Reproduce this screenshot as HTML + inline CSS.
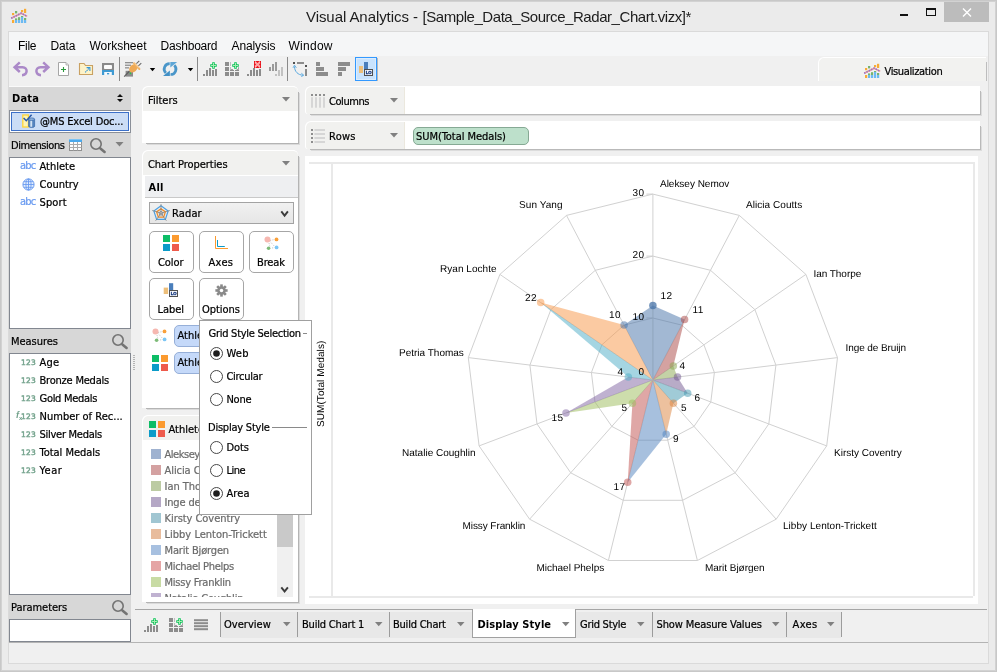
<!DOCTYPE html>
<html lang="en"><head><meta charset="utf-8"><title>Visual Analytics</title>
<style>
html,body{margin:0;padding:0;}
body{width:997px;height:672px;overflow:hidden;background:#ebebeb;position:relative;font-family:'DejaVu Sans Condensed','Liberation Sans',sans-serif;font-size:11px;}
div{position:absolute;box-sizing:border-box;}
svg{position:absolute;overflow:visible;}
.t{white-space:nowrap;}
.u{font-family:'DejaVu Sans Condensed','Liberation Sans',sans-serif;-webkit-text-stroke:0.22px currentColor;}
.l{font-family:'Liberation Sans',sans-serif;}
.d{font-family:'DejaVu Sans','Liberation Sans',sans-serif;-webkit-text-stroke:0.45px currentColor;}
.b{font-weight:bold;-webkit-text-stroke:0;}
</style></head>
<body>
<div style="left:0px;top:0px;width:997px;height:672px;background:#c8c8c8;"></div>
<div style="left:1px;top:1px;width:995px;height:670px;background:#d2d2d2;"></div>
<div style="left:2px;top:2px;width:993px;height:668px;background:#ebebeb;"></div>
<div style="left:8px;top:31px;width:981px;height:633px;background:#f0f0f0;border:1px solid #dadada;"></div>
<svg style="left:11px;top:8px" width="18" height="16" viewBox="0 0 18 16"><rect x="1" y="5" width="2.2" height="2.2" fill="#f8ab35"/><rect x="1" y="12" width="2.2" height="3" fill="#f8ab35"/><rect x="4" y="3" width="2.2" height="2.4" fill="#78b46e"/><rect x="4" y="10.4" width="2.2" height="1.8" fill="#78b46e"/><rect x="4" y="12" width="2.2" height="3" fill="#6cbaf2"/><rect x="7" y="9.2" width="2.2" height="2.8" fill="#78b46e"/><rect x="7" y="12" width="2.2" height="3" fill="#6cbaf2"/><rect x="10" y="2" width="2.2" height="2.2" fill="#f8ab35"/><rect x="10" y="8" width="2.2" height="1.2" fill="#78b46e"/><rect x="10" y="9" width="2.2" height="6" fill="#6cbaf2"/><rect x="13" y="0.8" width="2.2" height="4.2" fill="#f8ab35"/><rect x="13" y="10" width="2.2" height="2" fill="#78b46e"/><rect x="13" y="12" width="2.2" height="3" fill="#6cbaf2"/><path d="M0.2 10.3 L10.2 5.2 L16.2 8.4" fill="none" stroke="#ee9a9a" stroke-width="1.6"/><path d="M0.2 10.3 L10.2 5.2 L16.2 8.4" fill="none" stroke="#8f74cc" stroke-width="1.6" stroke-dasharray="1.3 1.3"/></svg>
<div class="t l" style="left:306px;top:7px;font-size:15px;line-height:20px;height:20px;color:#1c1c1c;letter-spacing:-0.07px;">Visual Analytics -</div>
<div class="t l" style="left:422.5px;top:7px;font-size:15px;line-height:20px;height:20px;color:#1c1c1c;letter-spacing:-0.44px;">[Sample_Data_Source_Radar_Chart.vizx]*</div>
<div style="left:900px;top:14px;width:8px;height:2px;background:#111;"></div>
<div style="left:926px;top:8px;width:10px;height:8px;border:1px solid #111;border-top:2px solid #111;"></div>
<div style="left:944px;top:2px;width:45px;height:20px;background:#bcbcbc;"></div>
<svg style="left:962px;top:8px" width="10" height="9" viewBox="0 0 10 9"><path d="M1 0.5 L9 8.5 M9 0.5 L1 8.5" stroke="#fff" stroke-width="1.4" fill="none"/></svg>
<div style="left:9px;top:32px;width:979px;height:24px;background:#f5f6f7;"></div>
<div class="t l" style="left:18px;top:38px;font-size:12px;line-height:16px;height:16px;letter-spacing:-0.28px;">File</div>
<div class="t l" style="left:50.5px;top:38px;font-size:12px;line-height:16px;height:16px;letter-spacing:-0.12px;">Data</div>
<div class="t l" style="left:89.5px;top:38px;font-size:12px;line-height:16px;height:16px;letter-spacing:-0.02px;">Worksheet</div>
<div class="t l" style="left:160.5px;top:38px;font-size:12px;line-height:16px;height:16px;letter-spacing:-0.21px;">Dashboard</div>
<div class="t l" style="left:231.5px;top:38px;font-size:12px;line-height:16px;height:16px;letter-spacing:-0.1px;">Analysis</div>
<div class="t l" style="left:288.5px;top:38px;font-size:12px;line-height:16px;height:16px;letter-spacing:0.26px;">Window</div>
<div style="left:9px;top:56px;width:979px;height:30px;background:#f0f0f0;"></div>
<svg style="left:0;top:0" width="420" height="90" viewBox="0 0 420 90"><path d="M19.8 62.4 L14.6 67.2 L19.8 72 M16.5 67.2 H22.5 C28.3 67.4 27.8 75 22 75.2" fill="none" stroke="#ab89c8" stroke-width="2.5" stroke-linecap="butt" stroke-linejoin="miter"/><path d="M43.2 62.4 L48.4 67.2 L43.2 72 M46.5 67.2 H40.5 C34.7 67.4 35.2 75 41 75.2" fill="none" stroke="#ab89c8" stroke-width="2.5" stroke-linecap="butt" stroke-linejoin="miter"/><path d="M58.5 62.5 H66 L68.5 65 V75.5 H58.5 Z" fill="#fff" stroke="#a6a6a6" stroke-width="1"/><path d="M66 62.5 V65 H68.5" fill="#e8e8e8" stroke="#a6a6a6" stroke-width="0.8"/><path d="M63.5 67 V72 M61 69.5 H66" stroke="#2a9a3c" stroke-width="1.1" fill="none"/><path d="M79.5 63.5 H84 L85.5 65.5 H92.5 V74.5 H79.5 Z" fill="#fdf3c9" stroke="#c9a162" stroke-width="1.1"/><path d="M85.2 72.3 L89.3 68.2" fill="none" stroke="#3496d8" stroke-width="1.1" stroke-dasharray="1.4 0.6"/><path d="M86.6 67.6 H89.9 V70.9" fill="none" stroke="#3496d8" stroke-width="1.1"/><rect x="102" y="63" width="12" height="7" fill="#8a8a8a"/><rect x="104" y="65" width="8" height="4" rx="0.8" fill="#fdfdfd"/><rect x="102" y="70" width="12" height="5" fill="#3f9ad2"/><rect x="104.2" y="72" width="7.6" height="3" fill="#f4f8fc"/><rect x="107" y="73" width="2.2" height="1.4" fill="#3f9ad2"/><rect x="119.0" y="57" width="1" height="24" fill="#8a8a8a"/><rect x="197.0" y="57" width="1" height="24" fill="#8a8a8a"/><rect x="287.0" y="57" width="1" height="24" fill="#8a8a8a"/><g fill="#8f8f8f"><rect x="125" y="62" width="8" height="1.3"/><rect x="125" y="64.6" width="6" height="1.3"/><rect x="125" y="67.2" width="4" height="1.3"/><rect x="125.6" y="70.8" width="7.4" height="5.8" fill="#8a8a8a"/></g><path d="M124.2 76.6 L129.4 71.2" stroke="#5f5f5f" stroke-width="1.3" fill="none"/><path d="M136.4 63.6 L139.3 60.9 M138.4 65.8 L141.3 63.1" stroke="#6a6a6a" stroke-width="1.1" fill="none"/><ellipse cx="133.3" cy="68.4" rx="4.7" ry="3.5" transform="rotate(-42 133.3 68.4)" fill="#eea955"/><path d="M134 63.2 L139.4 69" stroke="#f0b264" stroke-width="2" stroke-linecap="round" fill="none"/><path d="M134.6 63.4 L139 68.2" stroke="#f8d8a8" stroke-width="0.6" fill="none"/><circle cx="130.4" cy="73.4" r="0.8" fill="#22d23c"/><path d="M149.8 68 h5.4 l-2.7 3.2 z" fill="#000"/><path d="M187.8 68 h5.4 l-2.7 3.2 z" fill="#000"/><path d="M169.7 63.6 A5.4 5.4 0 0 0 165.9 72.9" fill="none" stroke="#4a96c9" stroke-width="2.7"/><path d="M163 76 H169.9 V70.6 Z" fill="#4190c6"/><path d="M170.5 74.5 A5.4 5.4 0 0 0 174.3 65.2" fill="none" stroke="#4a96c9" stroke-width="2.7"/><path d="M177.2 62 H170.3 V67.4 Z" fill="#5ea6d6"/><rect x="203" y="74" width="2" height="2" fill="#8c8c8c"/><rect x="206" y="70" width="2" height="6" fill="#8c8c8c"/><rect x="209" y="68" width="2" height="8" fill="#8c8c8c"/><rect x="212" y="70" width="2" height="6" fill="#8c8c8c"/><rect x="215" y="69" width="2" height="7" fill="#8c8c8c"/><path d="M212 62h3v2h2v3h-2v2h-3v-2h-2v-3h2z" fill="#12c05c" stroke="#f4fff6" stroke-opacity="0.55" stroke-width="0.8"/><path d="M213 63h1v2h2v1h-2v2h-1v-2h-2v-1h2z" fill="#a4ecb0"/><rect x="225" y="62" width="4" height="4" fill="#8c8c8c"/><rect x="230" y="62" width="4" height="4" fill="#8c8c8c"/><rect x="235" y="62" width="4" height="4" fill="#8c8c8c"/><rect x="225" y="67" width="4" height="4" fill="#8c8c8c"/><rect x="230" y="67" width="4" height="4" fill="#8c8c8c"/><rect x="235" y="67" width="4" height="4" fill="#8c8c8c"/><rect x="225" y="72" width="4" height="4" fill="#8c8c8c"/><rect x="230" y="72" width="4" height="4" fill="#8c8c8c"/><rect x="235" y="72" width="4" height="4" fill="#8c8c8c"/><rect x="230.5" y="61.5" width="9" height="8.5" fill="#f0f0f0"/><path d="M231 69.5 h2 M238.5 67 v2.5 h-2" stroke="#8c8c8c" stroke-width="0.8" fill="none"/><path d="M234 62h3v2h2v3h-2v2h-3v-2h-2v-3h2z" fill="#12c05c" stroke="#f4fff6" stroke-opacity="0.55" stroke-width="0.8"/><path d="M235 63h1v2h2v1h-2v2h-1v-2h-2v-1h2z" fill="#a4ecb0"/><rect x="247" y="74" width="2" height="2" fill="#8c8c8c"/><rect x="250" y="70" width="2" height="6" fill="#8c8c8c"/><rect x="253" y="68" width="2" height="8" fill="#8c8c8c"/><rect x="256" y="70" width="2" height="6" fill="#8c8c8c"/><rect x="259" y="69" width="2" height="7" fill="#8c8c8c"/><rect x="254" y="61" width="7" height="7" fill="#e8111a"/><path d="M255.2 62.2 L259.8 66.8 M259.8 62.2 L255.2 66.8" stroke="#ffa0a0" stroke-width="2"/><path d="M255 62h1M259 62h1M255 67h1M259 67h1" stroke="#ffe0e0" stroke-width="1"/><g fill="#9a9a9a"><rect x="269" y="67" width="2" height="4"/><rect x="272" y="64" width="2" height="7"/><rect x="275" y="62" width="2" height="9"/></g><g fill="#c2c2c2"><rect x="275" y="74" width="2" height="2"/><rect x="278" y="70" width="2" height="6"/><rect x="281" y="67" width="2" height="9"/></g><rect x="293" y="62" width="2" height="2" fill="#505050"/><rect x="297" y="62" width="7" height="2" fill="#8c8c8c"/><rect x="305" y="65" width="2" height="2" fill="#505050"/><rect x="305" y="69" width="2" height="7" fill="#8c8c8c"/><path d="M294.5 66.5 C294.5 71.5 298 75 303 75.2" fill="none" stroke="#5aa9e0" stroke-width="1"/><path d="M293 67.8 L294.5 65.2 L296.4 67.8 M301.3 73.2 L303.8 75.2 L301.3 76.6" fill="none" stroke="#5aa9e0" stroke-width="0.9"/><g fill="#8c8c8c"><rect x="316" y="62" width="4" height="4"/><rect x="316" y="67" width="8" height="4"/><rect x="316" y="72" width="12" height="4"/><rect x="338" y="62" width="12" height="4"/><rect x="338" y="67" width="8" height="4"/><rect x="338" y="72" width="4" height="4"/></g><rect x="355.5" y="57.5" width="21" height="23" fill="#c9e3fd" stroke="#3399ff" stroke-width="1"/><rect x="356.5" y="58.5" width="19" height="21" fill="none" stroke="#dcedfe" stroke-width="1"/><rect x="377" y="58" width="1" height="23" fill="#b9b9b9"/><rect x="359" y="66" width="4" height="7" fill="#edbf7a"/><rect x="364" y="62" width="4" height="10" fill="#4a7ebb"/><rect x="364.5" y="69.5" width="8" height="6" fill="#f2f6fb" stroke="#505050" stroke-width="1"/><text x="365.7" y="74.1" font-family="Liberation Sans,sans-serif" font-size="4.3" font-weight="bold" fill="#0c2f78" stroke="#0c2f78" stroke-width="0.3">LO</text></svg>
<div style="left:9px;top:86px;width:122px;height:1px;background:#fafafa;"></div>
<div style="left:9px;top:87px;width:122px;height:555px;background:#d7d7d7;"></div>
<div class="t u b" style="left:12px;top:92px;font-size:11px;line-height:14px;height:14px;letter-spacing:0.23px;">Data</div>
<svg style="left:116px;top:93px" width="8" height="10" viewBox="0 0 8 10"><path d="M1 4 L4 1 L7 4 Z M1 6 L7 6 L4 9 Z" fill="#111"/></svg>
<div style="left:9px;top:110px;width:122px;height:23px;background:#fff;border:1px solid #8a8f98;"></div>
<div style="left:11px;top:112px;width:118px;height:19px;background:#cbddf6;border:1px solid #3c70c8;"></div>
<svg style="left:22px;top:114px" width="14" height="14" viewBox="0 0 14 14">
<rect x="0.8" y="1" width="5.6" height="12" fill="#fdf4b4" stroke="#ffd638" stroke-width="1.3"/>
<path d="M6.6 5.2 v7 a3 1.2 0 0 0 6 0 v-7 z" fill="#5585bf" stroke="#3f6fae" stroke-width="0.8"/>
<rect x="8.3" y="5.6" width="1.9" height="7.2" fill="#d4e3f3"/>
<ellipse cx="9.6" cy="5.2" rx="3" ry="1.3" fill="#8fb2da" stroke="#3f6fae" stroke-width="0.8"/>
<path d="M1.6 3.9 L4.3 6.7 L9.6 0.7" fill="none" stroke="#2a5aa8" stroke-width="1.5"/>
</svg>
<div class="t u" style="left:40px;top:115px;font-size:11px;line-height:14px;height:14px;letter-spacing:-0.15px;">@MS Excel Doc...</div>
<div class="t u" style="left:11px;top:139px;font-size:11px;line-height:14px;height:14px;letter-spacing:-0.42px;">Dimensions</div>
<svg style="left:69px;top:139px" width="13" height="12" viewBox="0 0 13 12">
<rect x="0.5" y="0.5" width="12" height="11" fill="#fdfdfd" stroke="#909090" stroke-width="1"/>
<rect x="0" y="0" width="13" height="3" fill="#4ba9ec"/><rect x="0" y="0" width="13" height="1" fill="#7cc3f4"/>
<path d="M0.5 5.5 H12.5 M0.5 8.5 H12.5 M4.5 3 V11.5 M8.5 3 V11.5" stroke="#ababab" stroke-width="1" fill="none"/>
</svg>
<svg style="left:88.1px;top:135.9px" width="20" height="20" viewBox="-8 -8 20 20"><circle cx="0" cy="0" r="5.2" fill="none" stroke="#737373" stroke-width="1.6"/><path d="M4.4 4.5 L8.6 7.9" stroke="#737373" stroke-width="2.6" stroke-linecap="round"/></svg>
<svg style="left:115px;top:142px" width="9" height="5" viewBox="0 0 9 5"><path d="M0.5 0 H8.5 L4.5 4.6 Z" fill="#808080"/></svg>
<div style="left:9px;top:157px;width:122px;height:172px;background:#fff;border:1px solid #828790;"></div>
<div class="t u" style="left:20px;top:159px;font-size:11px;line-height:14px;height:14px;color:#6a9bf0;letter-spacing:-0.8px;">abc</div>
<div class="t u" style="left:39.5px;top:160px;font-size:11px;line-height:14px;height:14px;letter-spacing:-0.01px;">Athlete</div>
<svg style="left:22px;top:177.5px" width="13" height="13" viewBox="0 0 13 13">
<circle cx="6.5" cy="6.5" r="5.6" fill="#e4eefc" stroke="#6a9bf0" stroke-width="1"/>
<ellipse cx="6.5" cy="6.5" rx="2.6" ry="5.6" fill="none" stroke="#6a9bf0" stroke-width="0.9"/>
<path d="M6.5 1 V12 M1 6.5 H12 M1.9 3.7 H11.1 M1.9 9.3 H11.1" stroke="#6a9bf0" stroke-width="0.9" fill="none"/></svg>
<div class="t u" style="left:39.5px;top:178px;font-size:11px;line-height:14px;height:14px;letter-spacing:-0.02px;">Country</div>
<div class="t u" style="left:20px;top:195px;font-size:11px;line-height:14px;height:14px;color:#6a9bf0;letter-spacing:-0.8px;">abc</div>
<div class="t u" style="left:39.5px;top:196px;font-size:11px;line-height:14px;height:14px;letter-spacing:0.11px;">Sport</div>
<div class="t u" style="left:11px;top:335px;font-size:11px;line-height:14px;height:14px;letter-spacing:-0.03px;">Measures</div>
<svg style="left:110.2px;top:332.2px" width="20" height="20" viewBox="-8 -8 20 20"><circle cx="0" cy="0" r="5.2" fill="none" stroke="#737373" stroke-width="1.6"/><path d="M4.4 4.5 L8.6 7.9" stroke="#737373" stroke-width="2.6" stroke-linecap="round"/></svg>
<div style="left:9px;top:353px;width:122px;height:242px;background:#fff;border:1px solid #828790;"></div>
<div class="t d" style="left:21px;top:358px;font-size:7.5px;line-height:10px;height:10px;color:#74a38d;letter-spacing:0.19px;">123</div>
<div class="t u" style="left:39.5px;top:356px;font-size:11px;line-height:14px;height:14px;letter-spacing:0.17px;">Age</div>
<div class="t d" style="left:21px;top:376px;font-size:7.5px;line-height:10px;height:10px;color:#74a38d;letter-spacing:0.19px;">123</div>
<div class="t u" style="left:39.5px;top:374px;font-size:11px;line-height:14px;height:14px;letter-spacing:-0.21px;">Bronze Medals</div>
<div class="t d" style="left:21px;top:394px;font-size:7.5px;line-height:10px;height:10px;color:#74a38d;letter-spacing:0.19px;">123</div>
<div class="t u" style="left:39.5px;top:392px;font-size:11px;line-height:14px;height:14px;letter-spacing:-0.29px;">Gold Medals</div>
<div class="t d" style="left:21px;top:412px;font-size:7.5px;line-height:10px;height:10px;color:#74a38d;letter-spacing:0.19px;">123</div>
<div class="t l b" style="left:16px;top:409px;font-size:9px;line-height:12px;height:12px;color:#74a38d;"><i>f</i></div>
<div class="t l b" style="left:19px;top:414px;font-size:6px;line-height:8px;height:8px;color:#74a38d;">x</div>
<div class="t u" style="left:39.5px;top:410px;font-size:11px;line-height:14px;height:14px;letter-spacing:0.02px;">Number of Rec...</div>
<div class="t d" style="left:21px;top:430px;font-size:7.5px;line-height:10px;height:10px;color:#74a38d;letter-spacing:0.19px;">123</div>
<div class="t u" style="left:39.5px;top:428px;font-size:11px;line-height:14px;height:14px;letter-spacing:-0.27px;">Silver Medals</div>
<div class="t d" style="left:21px;top:448px;font-size:7.5px;line-height:10px;height:10px;color:#74a38d;letter-spacing:0.19px;">123</div>
<div class="t u" style="left:39.5px;top:446px;font-size:11px;line-height:14px;height:14px;letter-spacing:-0.02px;">Total Medals</div>
<div class="t d" style="left:21px;top:466px;font-size:7.5px;line-height:10px;height:10px;color:#74a38d;letter-spacing:0.19px;">123</div>
<div class="t u" style="left:39.5px;top:464px;font-size:11px;line-height:14px;height:14px;letter-spacing:0.53px;">Year</div>
<div style="left:133px;top:355px;width:2px;height:1px;background:#b4b4b4;"></div>
<div style="left:133px;top:357px;width:2px;height:1px;background:#b4b4b4;"></div>
<div style="left:133px;top:359px;width:2px;height:1px;background:#b4b4b4;"></div>
<div style="left:133px;top:361px;width:2px;height:1px;background:#b4b4b4;"></div>
<div style="left:133px;top:363px;width:2px;height:1px;background:#b4b4b4;"></div>
<div style="left:133px;top:365px;width:2px;height:1px;background:#b4b4b4;"></div>
<div style="left:133px;top:367px;width:2px;height:1px;background:#b4b4b4;"></div>
<div style="left:133px;top:369px;width:2px;height:1px;background:#b4b4b4;"></div>
<div class="t u" style="left:11px;top:601px;font-size:11px;line-height:14px;height:14px;letter-spacing:-0.04px;">Parameters</div>
<svg style="left:110px;top:597.9px" width="20" height="20" viewBox="-8 -8 20 20"><circle cx="0" cy="0" r="5.2" fill="none" stroke="#737373" stroke-width="1.6"/><path d="M4.4 4.5 L8.6 7.9" stroke="#737373" stroke-width="2.6" stroke-linecap="round"/></svg>
<div style="left:9px;top:619px;width:122px;height:23px;background:#fff;border:1px solid #828790;"></div>
<div style="left:145px;top:91px;width:153px;height:52px;box-shadow:1px 1px 0 #b4b4b4,2px 2px 0 #dadada;"></div>
<div style="left:142px;top:86px;width:156px;height:57px;background:#fff;border-radius:6px 5px 0 0;overflow:hidden;border-left:1px solid #fff;border-top:1px solid #fff;"><div style="left:0;top:0;width:155px;height:24px;background:#f1f1ef;border-radius:5px 4px 0 0"></div></div>
<div class="t u" style="left:148px;top:94px;font-size:11px;line-height:14px;height:14px;letter-spacing:0.02px;">Filters</div>
<svg style="left:281.5px;top:97px" width="8" height="5.0" viewBox="0 0 8 5.0"><path d="M0 0 H8 L4.0 4.5 Z" fill="#808080"/></svg>
<div style="left:145px;top:155px;width:153px;height:253px;box-shadow:1px 1px 0 #b4b4b4,2px 2px 0 #dadada;"></div>
<div style="left:142px;top:150px;width:156px;height:258px;background:#fff;border-radius:6px 5px 0 0;overflow:hidden;border-left:1px solid #fff;border-top:1px solid #fff;"><div style="left:0;top:0;width:155px;height:24px;background:#f1f1ef;border-radius:5px 4px 0 0"></div></div>
<div class="t u" style="left:148px;top:158px;font-size:11px;line-height:14px;height:14px;letter-spacing:-0.05px;">Chart Properties</div>
<svg style="left:281.5px;top:161px" width="8" height="5.0" viewBox="0 0 8 5.0"><path d="M0 0 H8 L4.0 4.5 Z" fill="#808080"/></svg>
<div style="left:145px;top:176px;width:153px;height:21px;background:#eeeff1;"></div>
<div style="left:145px;top:197px;width:153px;height:1px;background:#c9c9c9;"></div>
<div class="t u b" style="left:148.5px;top:181px;font-size:11px;line-height:14px;height:14px;letter-spacing:0.28px;">All</div>
<div style="left:149px;top:202px;width:145px;height:22px;background:linear-gradient(#f1f1f1,#e6e6e6);border:1px solid #a3a3a3;"></div>
<svg style="left:153px;top:205px" width="16" height="17" viewBox="0 0 16 17">
<path d="M8.00 0.80 L15.13 5.98 L12.41 14.37 L3.59 14.37 L0.87 5.98 Z" fill="none" stroke="#4a9fe2" stroke-width="1.15" stroke-linejoin="round"/>
<path d="M8.00 3.70 L12.37 6.88 L10.70 12.02 L5.30 12.02 L3.63 6.88 Z" fill="none" stroke="#f28c28" stroke-width="1.25" stroke-linejoin="round"/>
<path d="M8.00 6.20 L10.00 7.65 L9.23 10.00 L6.77 10.00 L6.00 7.65 Z" fill="none" stroke="#7d7d7d" stroke-width="0.75"/>
<path d="M8 8.3 L8.00 -0.90 M8 8.3 L16.75 5.46 M8 8.3 L13.41 15.74 M8 8.3 L2.59 15.74 M8 8.3 L-0.75 5.46" stroke="#7d7d7d" stroke-width="0.75" fill="none"/>
</svg>
<div class="t u" style="left:172px;top:207px;font-size:11px;line-height:14px;height:14px;letter-spacing:0.14px;">Radar</div>
<svg style="left:280px;top:210px" width="10" height="8" viewBox="0 0 10 8"><path d="M1.3 1.3 L4.6 5.6 L7.9 1.3" fill="none" stroke="#3c3c3c" stroke-width="1.9"/></svg>
<div style="left:149px;top:231px;width:45px;height:42px;background:#fff;border:1px solid #a6a6a6;border-radius:5px;"></div>
<div style="left:199px;top:231px;width:45px;height:42px;background:#fff;border:1px solid #a6a6a6;border-radius:5px;"></div>
<div style="left:249px;top:231px;width:45px;height:42px;background:#fff;border:1px solid #a6a6a6;border-radius:5px;"></div>
<div style="left:149px;top:278px;width:45px;height:42px;background:#fff;border:1px solid #a6a6a6;border-radius:5px;"></div>
<div style="left:199px;top:278px;width:45px;height:42px;background:#fff;border:1px solid #a6a6a6;border-radius:5px;"></div>
<svg style="left:163px;top:235px" width="16" height="16"><rect x="0" y="0" width="7" height="7" fill="#0dbd66"/><rect x="9" y="0" width="7" height="7" fill="#fb9a2f"/><rect x="0" y="9" width="7" height="7" fill="#0b9bc8"/><rect x="9" y="9" width="7" height="7" fill="#ee5a4b"/></svg>
<div class="t u" style="left:158px;top:256px;font-size:11px;line-height:14px;height:14px;letter-spacing:-0.09px;">Color</div>
<svg style="left:214px;top:235px" width="15" height="15" viewBox="0 0 15 15"><path d="M1.5 1 V13.5 H14" fill="none" stroke="#fb9a2f" stroke-width="1"/><path d="M3.5 5 V11.5 H10.8" fill="none" stroke="#0b9bc8" stroke-width="1"/></svg>
<div class="t u" style="left:208.5px;top:256px;font-size:11px;line-height:14px;height:14px;letter-spacing:0.32px;">Axes</div>
<svg style="left:263.5px;top:235.5px" width="16" height="15" viewBox="0 0 16 15">
<path d="M6 4.5 L10.5 3.5 M6 5.5 L10.8 10.6 M5 7 L5.8 10.5 M8 12 L10.5 11.5" stroke="#bbb" stroke-width="0.8" stroke-dasharray="1.2 1.2" fill="none"/>
<circle cx="3.5" cy="3.5" r="3" fill="#f6b7b0"/><circle cx="12.5" cy="3.4" r="1.9" fill="#f9a03a"/>
<circle cx="4.6" cy="12.3" r="1.8" fill="#7dbb78"/><circle cx="12.6" cy="11.4" r="1.9" fill="#7cc6f5"/></svg>
<div class="t u" style="left:257px;top:256px;font-size:11px;line-height:14px;height:14px;letter-spacing:-0.12px;">Break</div>
<svg style="left:163px;top:282px" width="16" height="16" viewBox="0 0 16 16"><rect x="0.7" y="5.6" width="4.4" height="6.4" fill="#edbf7a"/><rect x="6" y="1.2" width="4.2" height="9" fill="#4a7ebb"/><rect x="6.5" y="8.5" width="8" height="6" fill="#f6f8fb" stroke="#505050" stroke-width="1"/><text x="7.7" y="13.1" font-family="Liberation Sans,sans-serif" font-size="4.3" font-weight="bold" fill="#0c2f78" stroke="#0c2f78" stroke-width="0.3">LO</text></svg>
<div class="t u" style="left:157.5px;top:303px;font-size:11px;line-height:14px;height:14px;letter-spacing:-0.05px;">Label</div>
<svg style="left:214.5px;top:284px" width="13" height="13" viewBox="-7 -7 14 14"><g fill="#8a8a8a"><rect x="-1.4" y="-6.6" width="2.8" height="4" transform="rotate(0)"/><rect x="-1.4" y="-6.6" width="2.8" height="4" transform="rotate(45)"/><rect x="-1.4" y="-6.6" width="2.8" height="4" transform="rotate(90)"/><rect x="-1.4" y="-6.6" width="2.8" height="4" transform="rotate(135)"/><rect x="-1.4" y="-6.6" width="2.8" height="4" transform="rotate(180)"/><rect x="-1.4" y="-6.6" width="2.8" height="4" transform="rotate(225)"/><rect x="-1.4" y="-6.6" width="2.8" height="4" transform="rotate(270)"/><rect x="-1.4" y="-6.6" width="2.8" height="4" transform="rotate(315)"/><circle r="4.6"/></g><circle r="1.9" fill="#fff"/></svg>
<div class="t u" style="left:202px;top:303px;font-size:11px;line-height:14px;height:14px;letter-spacing:-0.03px;">Options</div>
<svg style="left:152px;top:328.3px" width="16" height="15" viewBox="0 0 16 15">
<path d="M6 4.5 L10.5 3.5 M6 5.5 L10.8 10.6 M5 7 L5.8 10.5 M8 12 L10.5 11.5" stroke="#bbb" stroke-width="0.8" stroke-dasharray="1.2 1.2" fill="none"/>
<circle cx="3.5" cy="3.5" r="3" fill="#f6b7b0"/><circle cx="12.5" cy="3.4" r="1.9" fill="#f9a03a"/>
<circle cx="4.6" cy="12.3" r="1.8" fill="#7dbb78"/><circle cx="12.6" cy="11.4" r="1.9" fill="#7cc6f5"/></svg>
<div style="left:174px;top:325px;width:120px;height:22px;background:#c5d9f9;border:1px solid #96afd8;border-radius:5px;"></div>
<div class="t u" style="left:177.5px;top:329px;font-size:11px;line-height:14px;height:14px;letter-spacing:-0.01px;">Athlete</div>
<svg style="left:152px;top:355px" width="16" height="16"><rect x="0" y="0" width="7" height="7" fill="#0dbd66"/><rect x="9" y="0" width="7" height="7" fill="#fb9a2f"/><rect x="0" y="9" width="7" height="7" fill="#0b9bc8"/><rect x="9" y="9" width="7" height="7" fill="#ee5a4b"/></svg>
<div style="left:174px;top:352px;width:120px;height:22px;background:#c5d9f9;border:1px solid #96afd8;border-radius:5px;"></div>
<div class="t u" style="left:177.5px;top:356px;font-size:11px;line-height:14px;height:14px;letter-spacing:-0.01px;">Athlete</div>
<div style="left:145px;top:420px;width:153px;height:182px;box-shadow:1px 1px 0 #b4b4b4,2px 2px 0 #dadada;"></div>
<div style="left:142px;top:415px;width:156px;height:187px;background:#fff;border-radius:6px 5px 0 0;overflow:hidden;border-left:1px solid #fff;border-top:1px solid #fff;"><div style="left:0;top:0;width:155px;height:24px;background:#f1f1ef;border-radius:5px 4px 0 0"></div></div>
<svg style="left:149px;top:421px" width="16" height="16"><rect x="0" y="0" width="7" height="7" fill="#0dbd66"/><rect x="9" y="0" width="7" height="7" fill="#fb9a2f"/><rect x="0" y="9" width="7" height="7" fill="#0b9bc8"/><rect x="9" y="9" width="7" height="7" fill="#ee5a4b"/></svg>
<div class="t u" style="left:168.5px;top:423px;font-size:11px;line-height:14px;height:14px;letter-spacing:-0.01px;">Athlete</div>
<div style="left:143px;top:440px;width:134px;height:157px;overflow:hidden">
<div style="left:8px;top:9px;width:10px;height:10px;background:#9fb2d0;"></div>
<div class="t u" style="left:21.5px;top:8px;font-size:11px;line-height:14px;height:14px;color:#6b6b6b;letter-spacing:-0.47px;">Aleksey Nemov</div>
<div style="left:8px;top:25px;width:10px;height:10px;background:#d4a1a1;"></div>
<div class="t u" style="left:21.5px;top:24px;font-size:11px;line-height:14px;height:14px;color:#6b6b6b;letter-spacing:-0.07px;">Alicia Coutts</div>
<div style="left:8px;top:41px;width:10px;height:10px;background:#bccba3;"></div>
<div class="t u" style="left:21.5px;top:40px;font-size:11px;line-height:14px;height:14px;color:#6b6b6b;letter-spacing:-0.02px;">Ian Thorpe</div>
<div style="left:8px;top:57px;width:10px;height:10px;background:#b5a8c6;"></div>
<div class="t u" style="left:21.5px;top:56px;font-size:11px;line-height:14px;height:14px;color:#6b6b6b;letter-spacing:-0.16px;">Inge de Bruijn</div>
<div style="left:8px;top:73px;width:10px;height:10px;background:#a1c6d2;"></div>
<div class="t u" style="left:21.5px;top:72px;font-size:11px;line-height:14px;height:14px;color:#6b6b6b;letter-spacing:-0.05px;">Kirsty Coventry</div>
<div style="left:8px;top:89px;width:10px;height:10px;background:#e8bc9d;"></div>
<div class="t u" style="left:21.5px;top:88px;font-size:11px;line-height:14px;height:14px;color:#6b6b6b;letter-spacing:0.01px;">Libby Lenton-Trickett</div>
<div style="left:8px;top:105px;width:10px;height:10px;background:#a7c0e0;"></div>
<div class="t u" style="left:21.5px;top:104px;font-size:11px;line-height:14px;height:14px;color:#6b6b6b;letter-spacing:-0.16px;">Marit Bjørgen</div>
<div style="left:8px;top:121px;width:10px;height:10px;background:#e5a5a5;"></div>
<div class="t u" style="left:21.5px;top:120px;font-size:11px;line-height:14px;height:14px;color:#6b6b6b;letter-spacing:-0.31px;">Michael Phelps</div>
<div style="left:8px;top:137px;width:10px;height:10px;background:#c8dba4;"></div>
<div class="t u" style="left:21.5px;top:136px;font-size:11px;line-height:14px;height:14px;color:#6b6b6b;letter-spacing:-0.22px;">Missy Franklin</div>
<div style="left:8px;top:153px;width:10px;height:10px;background:#c0b2d1;"></div>
<div class="t u" style="left:21.5px;top:152px;font-size:11px;line-height:14px;height:14px;color:#6b6b6b;letter-spacing:-0.18px;">Natalie Coughlin</div>
</div>
<div style="left:277px;top:440px;width:16px;height:157px;background:#f0f0f0;"></div>
<div style="left:277px;top:440px;width:16px;height:107px;background:#c9c9c9;"></div>
<svg style="left:280px;top:585.5px" width="10" height="8" viewBox="0 0 10 8"><path d="M1.3 1.3 L4.6 5.4 L7.9 1.3" fill="none" stroke="#3c3c3c" stroke-width="1.9"/></svg>
<div style="left:818px;top:57px;width:168px;height:24px;background:#f2f2f0;border-top:1px solid #fff;border-left:1px solid #fff;border-radius:6px 0 0 0;"></div>
<div style="left:986px;top:62px;width:1px;height:19px;background:#bdbdbd;"></div>
<svg style="left:864px;top:63px" width="18" height="16" viewBox="0 0 18 16"><rect x="1" y="5" width="2.2" height="2.2" fill="#f8ab35"/><rect x="1" y="12" width="2.2" height="3" fill="#f8ab35"/><rect x="4" y="3" width="2.2" height="2.4" fill="#78b46e"/><rect x="4" y="10.4" width="2.2" height="1.8" fill="#78b46e"/><rect x="4" y="12" width="2.2" height="3" fill="#6cbaf2"/><rect x="7" y="9.2" width="2.2" height="2.8" fill="#78b46e"/><rect x="7" y="12" width="2.2" height="3" fill="#6cbaf2"/><rect x="10" y="2" width="2.2" height="2.2" fill="#f8ab35"/><rect x="10" y="8" width="2.2" height="1.2" fill="#78b46e"/><rect x="10" y="9" width="2.2" height="6" fill="#6cbaf2"/><rect x="13" y="0.8" width="2.2" height="4.2" fill="#f8ab35"/><rect x="13" y="10" width="2.2" height="2" fill="#78b46e"/><rect x="13" y="12" width="2.2" height="3" fill="#6cbaf2"/><path d="M0.2 10.3 L10.2 5.2 L16.2 8.4" fill="none" stroke="#ee9a9a" stroke-width="1.6"/><path d="M0.2 10.3 L10.2 5.2 L16.2 8.4" fill="none" stroke="#8f74cc" stroke-width="1.6" stroke-dasharray="1.3 1.3"/></svg>
<div class="t u" style="left:884.5px;top:65px;font-size:11px;line-height:14px;height:14px;letter-spacing:-0.36px;">Visualization</div>
<div style="left:309px;top:90px;width:671px;height:24px;box-shadow:1px 1px 0 #b9b9b9,2px 2px 0 #dcdcdc;"></div>
<div style="left:305px;top:86px;width:675px;height:28px;background:#fff;border-radius:6px 0 0 3px;overflow:hidden;border-left:1px solid #fff;border-top:1px solid #fff;"><div style="left:0;top:0;width:99px;height:28px;background:#f1f1ef;border-right:1px solid #ebe8de;border-radius:5px 0 0 2px"></div></div>
<div class="t u" style="left:329px;top:95px;font-size:11px;line-height:14px;height:14px;letter-spacing:-0.44px;">Columns</div>
<svg style="left:389.5px;top:98px" width="8" height="5.0" viewBox="0 0 8 5.0"><path d="M0 0 H8 L4.0 4.5 Z" fill="#808080"/></svg>
<svg style="left:311px;top:94px" width="14" height="14" viewBox="0 0 14 14"><rect x="0" y="0" width="2" height="2" fill="#8e8e8e"/><rect x="0" y="3.2" width="2" height="10.5" fill="#d6d6d6"/><rect x="4" y="0" width="2" height="2" fill="#8e8e8e"/><rect x="4" y="3.2" width="2" height="10.5" fill="#d6d6d6"/><rect x="8" y="0" width="2" height="2" fill="#8e8e8e"/><rect x="8" y="3.2" width="2" height="10.5" fill="#d6d6d6"/><rect x="12" y="0" width="2" height="2" fill="#8e8e8e"/><rect x="12" y="3.2" width="2" height="10.5" fill="#d6d6d6"/></svg>
<div style="left:309px;top:125px;width:671px;height:24px;box-shadow:1px 1px 0 #b9b9b9,2px 2px 0 #dcdcdc;"></div>
<div style="left:305px;top:121px;width:675px;height:28px;background:#fff;border-radius:6px 0 0 3px;overflow:hidden;border-left:1px solid #fff;border-top:1px solid #fff;"><div style="left:0;top:0;width:99px;height:28px;background:#f1f1ef;border-right:1px solid #ebe8de;border-radius:5px 0 0 2px"></div></div>
<div class="t u" style="left:329px;top:130px;font-size:11px;line-height:14px;height:14px;letter-spacing:0.27px;">Rows</div>
<svg style="left:389.5px;top:133px" width="8" height="5.0" viewBox="0 0 8 5.0"><path d="M0 0 H8 L4.0 4.5 Z" fill="#808080"/></svg>
<svg style="left:311px;top:129px" width="14" height="14" viewBox="0 0 14 14"><rect x="0" y="0" width="2" height="2" fill="#8e8e8e"/><rect x="3.4" y="0" width="10.6" height="2" fill="#d6d6d6"/><rect x="0" y="4" width="2" height="2" fill="#8e8e8e"/><rect x="3.4" y="4" width="10.6" height="2" fill="#d6d6d6"/><rect x="0" y="8" width="2" height="2" fill="#8e8e8e"/><rect x="3.4" y="8" width="10.6" height="2" fill="#d6d6d6"/><rect x="0" y="12" width="2" height="2" fill="#8e8e8e"/><rect x="3.4" y="12" width="10.6" height="2" fill="#d6d6d6"/></svg>
<div style="left:413px;top:127px;width:116px;height:18px;background:#bde0cb;border:1px solid #86a994;border-radius:5px;"></div>
<div class="t u" style="left:416px;top:130px;font-size:11px;line-height:14px;height:14px;letter-spacing:-0.05px;">SUM(Total Medals)</div>
<div style="left:305px;top:156px;width:673px;height:448px;background:#fff;"></div>
<div style="left:309px;top:162px;width:666px;height:2px;background:#e9e9e9;"></div>
<div style="left:309px;top:596px;width:664px;height:2px;background:#e9e9e9;"></div>
<div style="left:331px;top:164px;width:2px;height:432px;background:#e9e9e9;"></div>
<div style="left:973px;top:164px;width:2px;height:432px;background:#e9e9e9;"></div>
<svg style="left:0;top:0" width="997" height="672" viewBox="0 0 997 672"><g fill="none" stroke="#d1d1d1" stroke-width="1"><path d="M652.9 318.0 L681.7 325.1 L703.9 344.8 L714.4 372.5 L710.8 402.0 L694.0 426.4 L667.7 440.2 L638.1 440.2 L611.8 426.4 L595.0 402.0 L591.4 372.5 L601.9 344.8 L624.1 325.1 Z"/><path d="M652.9 256.1 L710.5 270.3 L754.9 309.6 L775.9 365.1 L768.8 423.9 L735.1 472.8 L682.6 500.3 L623.2 500.3 L570.7 472.8 L537.0 423.9 L529.9 365.1 L550.9 309.6 L595.3 270.3 Z"/><path d="M652.9 194.1 L739.3 215.4 L805.9 274.4 L837.5 357.6 L826.7 445.9 L776.2 519.2 L697.4 560.5 L608.4 560.5 L529.6 519.2 L479.1 445.9 L468.3 357.6 L499.9 274.4 L566.5 215.4 Z"/><path d="M652.9 380.0 L652.9 194.1"/><path d="M652.9 380.0 L739.3 215.4"/><path d="M652.9 380.0 L805.9 274.4"/><path d="M652.9 380.0 L837.5 357.6"/><path d="M652.9 380.0 L826.7 445.9"/><path d="M652.9 380.0 L776.2 519.2"/><path d="M652.9 380.0 L697.4 560.5"/><path d="M652.9 380.0 L608.4 560.5"/><path d="M652.9 380.0 L529.6 519.2"/><path d="M652.9 380.0 L479.1 445.9"/><path d="M652.9 380.0 L468.3 357.6"/><path d="M652.9 380.0 L499.9 274.4"/><path d="M652.9 380.0 L566.5 215.4"/><path d="M646.4 318.0 H652.9"/><path d="M646.4 256.1 H652.9"/><path d="M646.4 194.1 H652.9"/></g><path d="M652.9 380.0 L652.9 305.6 L684.6 319.6 Z" fill="#4572a7" fill-opacity="0.5"/><path d="M652.9 380.0 L684.6 319.6 L673.3 365.9 Z" fill="#aa4643" fill-opacity="0.5"/><path d="M652.9 380.0 L673.3 365.9 L677.5 377.0 Z" fill="#89a54e" fill-opacity="0.5"/><path d="M652.9 380.0 L677.5 377.0 L687.7 393.2 Z" fill="#71588f" fill-opacity="0.5"/><path d="M652.9 380.0 L687.7 393.2 L673.4 403.2 Z" fill="#4198af" fill-opacity="0.5"/><path d="M652.9 380.0 L673.4 403.2 L666.2 434.2 Z" fill="#db843d" fill-opacity="0.5"/><path d="M652.9 380.0 L666.2 434.2 L627.7 482.3 Z" fill="#4f81bd" fill-opacity="0.5"/><path d="M652.9 380.0 L627.7 482.3 L632.4 403.2 Z" fill="#c0504d" fill-opacity="0.5"/><path d="M652.9 380.0 L632.4 403.2 L566.0 413.0 Z" fill="#9bbb59" fill-opacity="0.5"/><path d="M652.9 380.0 L566.0 413.0 L628.3 377.0 Z" fill="#8064a2" fill-opacity="0.5"/><path d="M652.9 380.0 L628.3 377.0 L540.7 302.6 Z" fill="#4bacc6" fill-opacity="0.5"/><path d="M652.9 380.0 L540.7 302.6 L624.1 325.1 Z" fill="#f79646" fill-opacity="0.5"/><path d="M652.9 380.0 L624.1 325.1 L652.9 305.6 Z" fill="#4572a7" fill-opacity="0.5"/><circle cx="652.9" cy="305.6" r="3.75" fill="#4572a7" fill-opacity="0.75"/><circle cx="684.6" cy="319.6" r="3.75" fill="#aa4643" fill-opacity="0.5"/><circle cx="673.3" cy="365.9" r="3.75" fill="#89a54e" fill-opacity="0.5"/><circle cx="677.5" cy="377.0" r="3.75" fill="#71588f" fill-opacity="0.5"/><circle cx="687.7" cy="393.2" r="3.75" fill="#4198af" fill-opacity="0.5"/><circle cx="673.4" cy="403.2" r="3.75" fill="#db843d" fill-opacity="0.5"/><circle cx="666.2" cy="434.2" r="3.75" fill="#4f81bd" fill-opacity="0.5"/><circle cx="627.7" cy="482.3" r="3.75" fill="#c0504d" fill-opacity="0.5"/><circle cx="632.4" cy="403.2" r="3.75" fill="#9bbb59" fill-opacity="0.5"/><circle cx="566.0" cy="413.0" r="3.75" fill="#8064a2" fill-opacity="0.5"/><circle cx="628.3" cy="377.0" r="3.75" fill="#4bacc6" fill-opacity="0.5"/><circle cx="540.7" cy="302.6" r="3.75" fill="#f79646" fill-opacity="0.5"/><circle cx="624.1" cy="325.1" r="3.75" fill="#4572a7" fill-opacity="0.5"/></svg>
<div class="t l" style="left:660px;top:178px;font-size:10px;line-height:13px;height:13px;letter-spacing:-0.02px;text-rendering:geometricPrecision;">Aleksey Nemov</div>
<div class="t l" style="left:746px;top:199px;font-size:10px;line-height:13px;height:13px;letter-spacing:0.05px;text-rendering:geometricPrecision;">Alicia Coutts</div>
<div class="t l" style="left:813.5px;top:268px;font-size:10px;line-height:13px;height:13px;letter-spacing:-0.05px;text-rendering:geometricPrecision;">Ian Thorpe</div>
<div class="t l" style="left:845.5px;top:342px;font-size:10px;line-height:13px;height:13px;letter-spacing:-0.09px;text-rendering:geometricPrecision;">Inge de Bruijn</div>
<div class="t l" style="left:834px;top:447px;font-size:10px;line-height:13px;height:13px;text-rendering:geometricPrecision;">Kirsty Coventry</div>
<div class="t l" style="left:783px;top:520px;font-size:10px;line-height:13px;height:13px;letter-spacing:0.04px;text-rendering:geometricPrecision;">Libby Lenton-Trickett</div>
<div class="t l" style="left:705px;top:562px;font-size:10px;line-height:13px;height:13px;letter-spacing:-0.04px;text-rendering:geometricPrecision;">Marit Bjørgen</div>
<div class="t l" style="left:536.5px;top:562px;font-size:10px;line-height:13px;height:13px;letter-spacing:-0.01px;text-rendering:geometricPrecision;">Michael Phelps</div>
<div class="t l" style="left:462.5px;top:520px;font-size:10px;line-height:13px;height:13px;letter-spacing:-0.08px;text-rendering:geometricPrecision;">Missy Franklin</div>
<div class="t l" style="left:402px;top:447px;font-size:10px;line-height:13px;height:13px;letter-spacing:0.01px;text-rendering:geometricPrecision;">Natalie Coughlin</div>
<div class="t l" style="left:399px;top:347px;font-size:10px;line-height:13px;height:13px;text-rendering:geometricPrecision;">Petria Thomas</div>
<div class="t l" style="left:440px;top:263px;font-size:10px;line-height:13px;height:13px;letter-spacing:0.04px;text-rendering:geometricPrecision;">Ryan Lochte</div>
<div class="t l" style="left:519px;top:199px;font-size:10px;line-height:13px;height:13px;letter-spacing:0.08px;text-rendering:geometricPrecision;">Sun Yang</div>
<div class="t l" style="left:660.5px;top:290px;font-size:10px;line-height:13px;height:13px;letter-spacing:0.35px;text-rendering:geometricPrecision;">12</div>
<div class="t l" style="left:692.5px;top:304px;font-size:10px;line-height:13px;height:13px;letter-spacing:0.35px;text-rendering:geometricPrecision;">11</div>
<div class="t l" style="left:679.5px;top:360px;font-size:10px;line-height:13px;height:13px;text-rendering:geometricPrecision;">4</div>
<div class="t l" style="left:694.5px;top:392px;font-size:10px;line-height:13px;height:13px;text-rendering:geometricPrecision;">6</div>
<div class="t l" style="left:681px;top:402px;font-size:10px;line-height:13px;height:13px;text-rendering:geometricPrecision;">5</div>
<div class="t l" style="left:673px;top:433px;font-size:10px;line-height:13px;height:13px;text-rendering:geometricPrecision;">9</div>
<div class="t l" style="left:613.5px;top:481px;font-size:10px;line-height:13px;height:13px;letter-spacing:0.35px;text-rendering:geometricPrecision;">17</div>
<div class="t l" style="left:621.5px;top:402px;font-size:10px;line-height:13px;height:13px;text-rendering:geometricPrecision;">5</div>
<div class="t l" style="left:551.5px;top:412px;font-size:10px;line-height:13px;height:13px;letter-spacing:0.35px;text-rendering:geometricPrecision;">15</div>
<div class="t l" style="left:617.5px;top:366px;font-size:10px;line-height:13px;height:13px;text-rendering:geometricPrecision;">4</div>
<div class="t l" style="left:525px;top:292px;font-size:10px;line-height:13px;height:13px;letter-spacing:0.35px;text-rendering:geometricPrecision;">22</div>
<div class="t l" style="left:609px;top:309px;font-size:10px;line-height:13px;height:13px;letter-spacing:0.35px;text-rendering:geometricPrecision;">10</div>
<div class="t l" style="left:632.5px;top:187px;font-size:10px;line-height:13px;height:13px;letter-spacing:0.35px;text-rendering:geometricPrecision;">30</div>
<div class="t l" style="left:632.5px;top:249px;font-size:10px;line-height:13px;height:13px;letter-spacing:0.35px;text-rendering:geometricPrecision;">20</div>
<div class="t l" style="left:632.5px;top:311px;font-size:10px;line-height:13px;height:13px;letter-spacing:0.35px;text-rendering:geometricPrecision;">10</div>
<div class="t l" style="left:638.5px;top:366px;font-size:10px;line-height:13px;height:13px;text-rendering:geometricPrecision;">0</div>
<div class="t l" style="left:316.5px;top:426.5px;font-size:10px;line-height:10px;height:10px;color:#000;letter-spacing:0.08px;transform-origin:0 0;transform:rotate(-90deg);text-rendering:geometricPrecision;">SUM(Total Medals)</div>
<div style="left:135px;top:609px;width:852px;height:1px;background:#a6a6a6;"></div>
<div style="left:9px;top:642px;width:979px;height:1px;background:#b4b4b4;"></div>
<div style="left:221px;top:612px;width:620px;height:26px;background:#e8e8e8;"></div>
<svg style="left:0;top:0" width="230" height="672" viewBox="0 0 230 672"><rect x="144" y="630" width="2" height="2" fill="#8c8c8c"/><rect x="147" y="626" width="2" height="6" fill="#8c8c8c"/><rect x="150" y="624" width="2" height="8" fill="#8c8c8c"/><rect x="153" y="626" width="2" height="6" fill="#8c8c8c"/><rect x="156" y="625" width="2" height="7" fill="#8c8c8c"/><path d="M153 618h3v2h2v3h-2v2h-3v-2h-2v-3h2z" fill="#12c05c" stroke="#f4fff6" stroke-opacity="0.55" stroke-width="0.8"/><path d="M154 619h1v2h2v1h-2v2h-1v-2h-2v-1h2z" fill="#a4ecb0"/><rect x="169" y="618" width="4" height="4" fill="#8c8c8c"/><rect x="174" y="618" width="4" height="4" fill="#8c8c8c"/><rect x="179" y="618" width="4" height="4" fill="#8c8c8c"/><rect x="169" y="623" width="4" height="4" fill="#8c8c8c"/><rect x="174" y="623" width="4" height="4" fill="#8c8c8c"/><rect x="179" y="623" width="4" height="4" fill="#8c8c8c"/><rect x="169" y="628" width="4" height="4" fill="#8c8c8c"/><rect x="174" y="628" width="4" height="4" fill="#8c8c8c"/><rect x="179" y="628" width="4" height="4" fill="#8c8c8c"/><rect x="174.5" y="617.5" width="9" height="8.5" fill="#f0f0f0"/><path d="M175 625.5 h2 M182.5 623 v2.5 h-2" stroke="#8c8c8c" stroke-width="0.8" fill="none"/><path d="M178 618h3v2h2v3h-2v2h-3v-2h-2v-3h2z" fill="#12c05c" stroke="#f4fff6" stroke-opacity="0.55" stroke-width="0.8"/><path d="M179 619h1v2h2v1h-2v2h-1v-2h-2v-1h2z" fill="#a4ecb0"/><rect x="194" y="619.2" width="14" height="2" fill="#8c8c8c"/><rect x="194" y="622.2" width="14" height="2" fill="#8c8c8c"/><rect x="194" y="625.2" width="14" height="2" fill="#8c8c8c"/><rect x="194" y="628.2" width="14" height="2" fill="#8c8c8c"/></svg>
<div style="left:220.0px;top:612px;width:1px;height:25px;background:#9c9c9c;"></div>
<div style="left:297.0px;top:612px;width:1px;height:25px;background:#9c9c9c;"></div>
<div style="left:389.0px;top:612px;width:1px;height:25px;background:#9c9c9c;"></div>
<div style="left:651.5px;top:612px;width:1px;height:25px;background:#9c9c9c;"></div>
<div style="left:786.0px;top:612px;width:1px;height:25px;background:#9c9c9c;"></div>
<div style="left:840.5px;top:612px;width:1px;height:25px;background:#9c9c9c;"></div>
<div style="left:472px;top:609px;width:104px;height:29px;background:#fff;border:1px solid #a0a0a0;border-top:none;"></div>
<div class="t u" style="left:224px;top:618px;font-size:11px;line-height:14px;height:14px;letter-spacing:0.02px;">Overview</div>
<svg style="left:283px;top:622px" width="7.5" height="4.7" viewBox="0 0 7.5 4.7"><path d="M0 0 H7.5 L3.75 4.2 Z" fill="#808080"/></svg>
<div class="t u" style="left:302px;top:618px;font-size:11px;line-height:14px;height:14px;letter-spacing:-0.19px;">Build Chart 1</div>
<svg style="left:374.5px;top:622px" width="7.5" height="4.7" viewBox="0 0 7.5 4.7"><path d="M0 0 H7.5 L3.75 4.2 Z" fill="#808080"/></svg>
<div class="t u" style="left:393px;top:618px;font-size:11px;line-height:14px;height:14px;letter-spacing:-0.22px;">Build Chart</div>
<svg style="left:456.8px;top:622px" width="7.5" height="4.7" viewBox="0 0 7.5 4.7"><path d="M0 0 H7.5 L3.75 4.2 Z" fill="#808080"/></svg>
<div class="t u b" style="left:477.5px;top:618px;font-size:11px;line-height:14px;height:14px;letter-spacing:0.08px;">Display Style</div>
<svg style="left:561.5px;top:622px" width="7.5" height="4.7" viewBox="0 0 7.5 4.7"><path d="M0 0 H7.5 L3.75 4.2 Z" fill="#808080"/></svg>
<div class="t u" style="left:580px;top:618px;font-size:11px;line-height:14px;height:14px;letter-spacing:-0.26px;">Grid Style</div>
<svg style="left:637.3px;top:622px" width="7.5" height="4.7" viewBox="0 0 7.5 4.7"><path d="M0 0 H7.5 L3.75 4.2 Z" fill="#808080"/></svg>
<div class="t u" style="left:656.5px;top:618px;font-size:11px;line-height:14px;height:14px;letter-spacing:-0.11px;">Show Measure Values</div>
<svg style="left:772.3px;top:622px" width="7.5" height="4.7" viewBox="0 0 7.5 4.7"><path d="M0 0 H7.5 L3.75 4.2 Z" fill="#808080"/></svg>
<div class="t u" style="left:792.5px;top:618px;font-size:11px;line-height:14px;height:14px;letter-spacing:0.39px;">Axes</div>
<svg style="left:826.5px;top:622px" width="7.5" height="4.7" viewBox="0 0 7.5 4.7"><path d="M0 0 H7.5 L3.75 4.2 Z" fill="#808080"/></svg>
<div style="left:199px;top:320px;width:113px;height:195px;background:#fff;border:1px solid #a0a0a0;"></div>
<div class="t u" style="left:208.5px;top:327px;font-size:11px;line-height:14px;height:14px;letter-spacing:-0.26px;">Grid Style Selection</div>
<div style="left:303px;top:333px;width:4px;height:1px;background:#8a8a8a;"></div>
<div class="t u" style="left:208px;top:421px;font-size:11px;line-height:14px;height:14px;letter-spacing:-0.22px;">Display Style</div>
<div style="left:272px;top:427px;width:35px;height:1px;background:#8a8a8a;"></div>
<svg style="left:209px;top:346px" width="15" height="15" viewBox="0 0 15 15"><circle cx="7.5" cy="7.5" r="6" fill="#fff" stroke="#484848" stroke-width="1"/><circle cx="7.5" cy="7.5" r="3.3" fill="#1e1e1e"/></svg>
<div class="t u" style="left:226.5px;top:347px;font-size:11px;line-height:14px;height:14px;letter-spacing:0.23px;">Web</div>
<svg style="left:209px;top:369px" width="15" height="15" viewBox="0 0 15 15"><circle cx="7.5" cy="7.5" r="6" fill="#fff" stroke="#484848" stroke-width="1"/></svg>
<div class="t u" style="left:226.5px;top:370px;font-size:11px;line-height:14px;height:14px;letter-spacing:-0.3px;">Circular</div>
<svg style="left:209px;top:392px" width="15" height="15" viewBox="0 0 15 15"><circle cx="7.5" cy="7.5" r="6" fill="#fff" stroke="#484848" stroke-width="1"/></svg>
<div class="t u" style="left:226.5px;top:393px;font-size:11px;line-height:14px;height:14px;letter-spacing:-0.28px;">None</div>
<svg style="left:209px;top:440px" width="15" height="15" viewBox="0 0 15 15"><circle cx="7.5" cy="7.5" r="6" fill="#fff" stroke="#484848" stroke-width="1"/></svg>
<div class="t u" style="left:226.5px;top:441px;font-size:11px;line-height:14px;height:14px;letter-spacing:-0.07px;">Dots</div>
<svg style="left:209px;top:463px" width="15" height="15" viewBox="0 0 15 15"><circle cx="7.5" cy="7.5" r="6" fill="#fff" stroke="#484848" stroke-width="1"/></svg>
<div class="t u" style="left:226.5px;top:464px;font-size:11px;line-height:14px;height:14px;letter-spacing:-0.54px;">Line</div>
<svg style="left:209px;top:486px" width="15" height="15" viewBox="0 0 15 15"><circle cx="7.5" cy="7.5" r="6" fill="#fff" stroke="#484848" stroke-width="1"/><circle cx="7.5" cy="7.5" r="3.3" fill="#1e1e1e"/></svg>
<div class="t u" style="left:226.5px;top:487px;font-size:11px;line-height:14px;height:14px;letter-spacing:0.08px;">Area</div>
</body></html>
